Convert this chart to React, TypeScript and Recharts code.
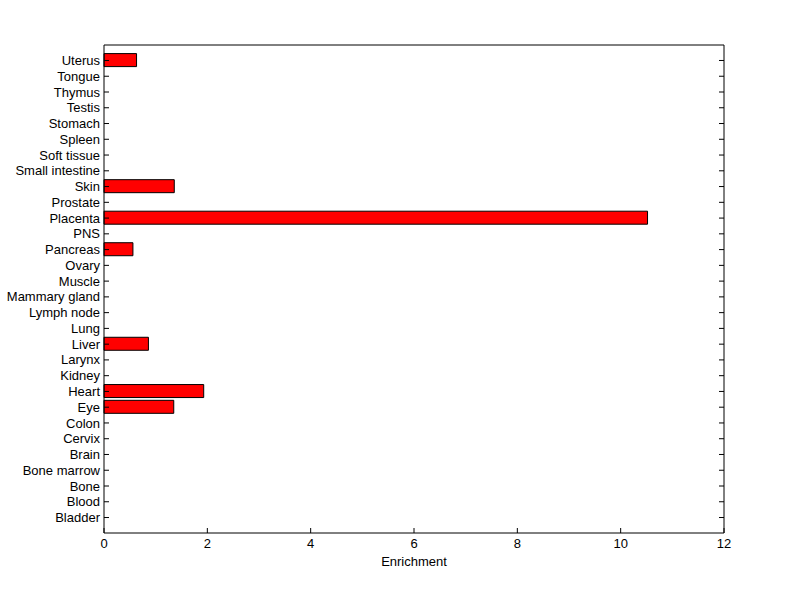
import { BarChart, Bar, XAxis, YAxis } from 'recharts'

const tissues = [
  'Bladder', 'Blood', 'Bone', 'Bone marrow', 'Brain', 'Cervix', 'Colon', 'Eye', 'Heart', 'Kidney',
  'Larynx', 'Liver', 'Lung', 'Lymph node', 'Mammary gland', 'Muscle', 'Ovary', 'Pancreas', 'PNS', 'Placenta',
  'Prostate', 'Skin', 'Small intestine', 'Soft tissue', 'Spleen', 'Stomach', 'Testis', 'Thymus', 'Tongue', 'Uterus',
]
const enrichment = [
  0, 0, 0, 0, 0, 0, 0, 1.35, 1.93, 0,
  0, 0.86, 0, 0, 0, 0, 0, 0.56, 0, 10.52,
  0, 1.36, 0, 0, 0, 0, 0, 0, 0, 0.63,
]
const xTicks = [0, 2, 4, 6, 8, 10, 12]

const font = '"Liberation Sans", Arial, sans-serif'

const LeftTick = (props: any) => {
  const { x, y, payload } = props
  return (
    <g>
      <line x1={x + 4} x2={x + 9} y1={y} y2={y} stroke="#000" />
      <text x={x} y={y} dy="0.35em" textAnchor="end" fontSize={13} fontFamily={font} fill="#000">
        {payload.value}
      </text>
    </g>
  )
}

const RightTick = (props: any) => {
  const { x, y } = props
  return <line x1={x - 5} x2={x} y1={y} y2={y} stroke="#000" />
}

const BottomTick = (props: any) => {
  const { x, y, payload } = props
  return (
    <g>
      <line x1={x} x2={x} y1={y - 6} y2={y - 11} stroke="#000" />
      <text x={x} y={y} dy="0.71em" textAnchor="middle" fontSize={13} fontFamily={font} fill="#000">
        {payload.value}
      </text>
    </g>
  )
}

const TopTick = (props: any) => {
  const { x, y } = props
  return <line x1={x} x2={x} y1={y} y2={y + 5} stroke="#000" />
}

export default function App() {
  const data = tissues.map((name, i) => ({ name, value: enrichment[i] }))
  const pad = { top: 7.6, bottom: 7.6 }

  return (
    <div style={{ position: 'absolute', left: 0, top: 0, background: '#fff' }}>
      <BarChart
        width={800}
        height={599}
        data={data}
        layout="vertical"
        margin={{ top: 25, right: 0, bottom: 26, left: 0 }}
      >
        <XAxis
          type="number"
          domain={[0, 12]}
          ticks={xTicks}
          height={40}
          tickSize={0}
          tickMargin={6}
          tickLine={false}
          axisLine={{ stroke: '#000' }}
          tick={<BottomTick />}
          label={{ value: 'Enrichment', position: 'insideBottom', offset: 7, fontSize: 13, fontFamily: font, fill: '#000' }}
        />
        <XAxis
          xAxisId="top"
          orientation="top"
          type="number"
          domain={[0, 12]}
          ticks={xTicks}
          height={20}
          tickSize={0}
          tickMargin={0}
          tickLine={false}
          axisLine={{ stroke: '#000' }}
          tick={<TopTick />}
        />
        <YAxis
          type="category"
          dataKey="name"
          reversed
          width={104}
          interval={0}
          padding={pad}
          tickSize={0}
          tickMargin={4}
          tickLine={false}
          axisLine={{ stroke: '#000' }}
          tick={<LeftTick />}
        />
        <YAxis
          yAxisId="right"
          orientation="right"
          type="category"
          dataKey="name"
          reversed
          width={76}
          interval={0}
          padding={pad}
          tickSize={0}
          tickMargin={0}
          tickLine={false}
          axisLine={{ stroke: '#000' }}
          tick={<RightTick />}
        />
        <Bar dataKey="value" fill="#ff0000" stroke="#000" strokeWidth={1} barSize={13} isAnimationActive={false} />
      </BarChart>
    </div>
  )
}
